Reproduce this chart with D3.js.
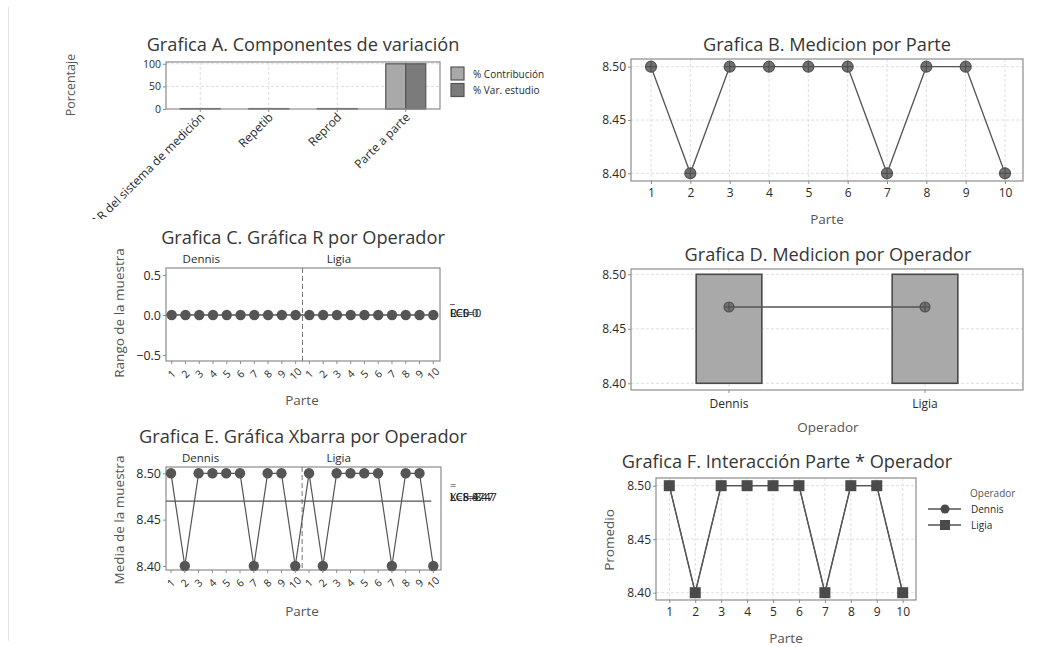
<!DOCTYPE html>
<html><head><meta charset="utf-8">
<script src="https://cdn.jsdelivr.net/npm/d3@7"></script>
<style>body{margin:0;background:#fff}svg{display:block}text{font-family:"Open Sans",sans-serif}</style>
</head><body><svg id="c" width="1052" height="647"></svg>
<script>
// ---------- data ----------
const components = ["R&R del sistema de medición", "Repetib", "Reprod", "Parte a parte"];
const seriesA = ["% Contribución", "% Var. estudio"];
const pctContribution = [1, 1, 1, 100];
const pctStudyVar = [1, 1, 1, 100];
const pctTicks = [0, 50, 100];
const parts = [1, 2, 3, 4, 5, 6, 7, 8, 9, 10];
const partMeans = [8.50, 8.40, 8.50, 8.50, 8.50, 8.50, 8.40, 8.50, 8.50, 8.40];
const operators = ["Dennis", "Ligia"];
const dennisRanges = [0, 0, 0, 0, 0, 0, 0, 0, 0, 0];
const ligiaRanges = [0, 0, 0, 0, 0, 0, 0, 0, 0, 0];
const dennisMeans = [8.50, 8.40, 8.50, 8.50, 8.50, 8.50, 8.40, 8.50, 8.50, 8.40];
const ligiaMeans = [8.50, 8.40, 8.50, 8.50, 8.50, 8.50, 8.40, 8.50, 8.50, 8.40];
const operatorQ1 = [8.40, 8.40];
const operatorQ3 = [8.50, 8.50];
const operatorMean = [8.47, 8.47];
const rTicks = [-0.5, 0, 0.5];
const meanTicks = [8.40, 8.45, 8.50];
const rCenter = 0;
const rLimitLabels = ["LCS=0", "R=0", "LCI=0"];
const xbarCenter = 8.47;
const xbarLimitLabels = ["LCS=8.47", "X=8.47", "LCI=8.47"];

// ---------- style ----------
const TITLE = "#363636", TXT = "#2a2a2a", LAB = "#555", FRAME = "#8c8c8c", GRID = "#dedede", MARK = "#555";
const svg = d3.select("#c");
svg.append("rect").attr("width", 1052).attr("height", 647).attr("fill", "#fff");
svg.append("line").attr("x1", 8.5).attr("x2", 8.5).attr("y1", 7).attr("y2", 641).attr("stroke", "#e2e2e2");

function title(g, x, y, t) {
  g.append("text").attr("x", x).attr("y", y).attr("text-anchor", "middle").attr("font-size", 18.2)
    .attr("fill", TITLE).text(t);
}
function frame(g, x0, y0, x1, y1) {
  g.append("rect").attr("x", x0).attr("y", y0).attr("width", x1 - x0).attr("height", y1 - y0)
    .attr("fill", "none").attr("stroke", FRAME).attr("stroke-width", 1.2);
}
function ylab(g, x, y, t, fs) {
  g.append("text").attr("transform", `translate(${x},${y}) rotate(-90)`).attr("text-anchor", "middle")
    .attr("font-size", fs || 13.5).attr("fill", LAB).text(t);
}
function xlab(g, x, y, t) {
  g.append("text").attr("x", x).attr("y", y).attr("text-anchor", "middle").attr("font-size", 13.5)
    .attr("fill", LAB).text(t);
}
function yAxis(g, scale, x, ticks, fmt, fs) {
  const a = g.append("g").attr("transform", `translate(${x},0)`)
    .call(d3.axisLeft(scale).tickValues(ticks).tickFormat(fmt).tickSize(3).tickPadding(2));
  a.select(".domain").remove();
  a.selectAll("line").attr("stroke", FRAME);
  a.selectAll("text").attr("font-size", fs || 12).attr("fill", TXT).attr("font-family", '"Open Sans",sans-serif');
}
function xAxis(g, scale, y, ticks, fs) {
  const a = g.append("g").attr("transform", `translate(0,${y})`)
    .call(d3.axisBottom(scale).tickValues(ticks).tickSize(3).tickPadding(4));
  a.select(".domain").remove();
  a.selectAll("line").attr("stroke", FRAME);
  a.selectAll("text").attr("font-size", fs || 12).attr("fill", TXT).attr("font-family", '"Open Sans",sans-serif');
  return a;
}
function hgrid(g, scale, ticks, x0, x1) {
  g.append("g").selectAll("line").data(ticks).join("line")
    .attr("x1", x0).attr("x2", x1).attr("y1", d => scale(d)).attr("y2", d => scale(d))
    .attr("stroke", GRID).attr("stroke-dasharray", "3,2");
}
function vgrid(g, xs, y0, y1) {
  g.append("g").selectAll("line").data(xs).join("line")
    .attr("x1", d => d).attr("x2", d => d).attr("y1", y0).attr("y2", y1)
    .attr("stroke", GRID).attr("stroke-dasharray", "3,2");
}
function circlePlus(g, pts, r) {
  const s = g.append("g").selectAll("g").data(pts).join("g").attr("transform", d => `translate(${d[0]},${d[1]})`);
  s.append("circle").attr("r", r).attr("fill", "#727272").attr("stroke", "#555").attr("stroke-width", 1.2);
  s.append("line").attr("x1", -r).attr("x2", r).attr("stroke", "#4a4a4a");
  s.append("line").attr("y1", -r).attr("y2", r).attr("stroke", "#4a4a4a");
}
const fmt2 = d3.format(".2f"), fmt1 = d3.format(".1f");

// ---------- Panel A ----------
{
  svg.append("defs").append("clipPath").attr("id", "clipA").append("rect")
    .attr("x", 0).attr("y", 0).attr("width", 560).attr("height", 219);
  const g = svg.append("g").attr("clip-path", "url(#clipA)");
  const x0 = 166, x1 = 440, y0 = 62, y1 = 109;
  const x = d3.scaleBand().domain(components).range([x0, x1]);
  const y = d3.scaleLinear().domain([0, 104]).range([y1, y0]);
  const inner = d3.scaleBand().domain(seriesA).range([0, 40]);
  const cx = c => x(c) + x.bandwidth() / 2;
  vgrid(g, components.map(cx), y0, y1);
  hgrid(g, y, [50, 100], x0, x1);
  const vals = [pctContribution, pctStudyVar];
  const fills = ["#a9a9a9", "#7b7b7b"];
  seriesA.forEach((s, si) => {
    g.append("g").selectAll("rect").data(components).join("rect")
      .attr("x", c => cx(c) - 20 + inner(s)).attr("width", inner.bandwidth())
      .attr("y", (c, i) => y(vals[si][i])).attr("height", (c, i) => y(0) - y(vals[si][i]))
      .attr("fill", fills[si]).attr("stroke", "#555").attr("stroke-width", 1.2);
  });
  frame(g, x0, y0, x1, y1);
  yAxis(g, y, x0, pctTicks, d3.format("d"), 10.5);
  g.append("g").selectAll("line").data(components).join("line")
    .attr("x1", cx).attr("x2", cx).attr("y1", y1).attr("y2", y1 + 3).attr("stroke", FRAME);
  g.append("g").selectAll("text").data(components).join("text")
    .attr("transform", c => `translate(${cx(c) + 5},${y1 + 9}) rotate(-45)`)
    .attr("text-anchor", "end").attr("font-size", 12).attr("fill", TXT).text(c => c);
  title(g, 303, 51, "Grafica A. Componentes de variación");
  ylab(g, 75, 85, "Porcentaje", 12.5);
  const lg = g.append("g").selectAll("g").data(seriesA).join("g")
    .attr("transform", (d, i) => `translate(451,${67 + i * 16.5})`);
  lg.append("rect").attr("width", 13).attr("height", 13).attr("fill", (d, i) => fills[i])
    .attr("stroke", "#555").attr("stroke-width", 1.2);
  lg.append("text").attr("x", 22).attr("y", 7).attr("dy", "0.35em").attr("font-size", 10)
    .attr("fill", TXT).text(d => d);
}

// ---------- Panel B ----------
{
  const g = svg.append("g");
  const x0 = 631, x1 = 1023, y0 = 59, y1 = 181;
  const x = d3.scaleLinear().domain([1, 10]).range([651, 1005]);
  const y = d3.scaleLinear().domain([8.40, 8.50]).range([173.3, 66.7]);
  vgrid(g, parts.map(x), y0, y1);
  hgrid(g, y, meanTicks, x0, x1);
  frame(g, x0, y0, x1, y1);
  g.append("path").datum(parts.map((p, i) => [x(p), y(partMeans[i])]))
    .attr("d", d3.line()).attr("fill", "none").attr("stroke", MARK).attr("stroke-width", 1.3);
  circlePlus(g, parts.map((p, i) => [x(p), y(partMeans[i])]), 5.5);
  yAxis(g, y, x0, meanTicks, fmt2);
  xAxis(g, x, y1, parts);
  title(g, 827, 51, "Grafica B. Medicion por Parte");
  xlab(g, 827, 224, "Parte");
}

// ---------- Panel C ----------
{
  const g = svg.append("g");
  const x0 = 166, x1 = 440, y0 = 268, y1 = 361;
  const n = dennisRanges.length + ligiaRanges.length;
  const idx = d3.range(n);
  const x = d3.scalePoint().domain(idx).range([171.7, 433.3]);
  const y = d3.scaleLinear().domain([-0.5, 0.5]).range([355, 275]);
  const ranges = dennisRanges.concat(ligiaRanges);
  frame(g, x0, y0, x1, y1);
  const split = (x(dennisRanges.length - 1) + x(dennisRanges.length)) / 2;
  g.append("line").attr("x1", split).attr("x2", split).attr("y1", y0).attr("y2", y1)
    .attr("stroke", "#777").attr("stroke-dasharray", "5,3");
  g.append("line").attr("x1", x0).attr("x2", x(n - 1)).attr("y1", y(rCenter)).attr("y2", y(rCenter))
    .attr("stroke", MARK).attr("stroke-width", 1.2);
  g.append("path").datum(idx.map(i => [x(i), y(ranges[i])]))
    .attr("d", d3.line()).attr("fill", "none").attr("stroke", MARK).attr("stroke-width", 1.2);
  g.append("g").selectAll("circle").data(idx).join("circle")
    .attr("cx", i => x(i)).attr("cy", i => y(ranges[i])).attr("r", 5.2).attr("fill", "#555");
  yAxis(g, y, x0, rTicks, fmt1, 12.5);
  g.append("g").selectAll("line").data(idx).join("line")
    .attr("x1", i => x(i)).attr("x2", i => x(i)).attr("y1", y1).attr("y2", y1 + 3).attr("stroke", FRAME);
  const labs = parts.concat(parts);
  g.append("g").selectAll("text").data(idx).join("text")
    .attr("transform", i => `translate(${x(i)},${y1 + 13}) rotate(-45)`).attr("text-anchor", "middle")
    .attr("dy", "0.35em").attr("font-size", 10.5).attr("fill", TXT).text(i => labs[i]);
  g.selectAll(".op").data(operators).join("text").attr("class", "op")
    .attr("x", (d, i) => x(i * dennisRanges.length + 2) + 2).attr("y", 263).attr("text-anchor", "middle")
    .attr("font-size", 11.5).attr("fill", TXT).text(d => d);
  rLimitLabels.forEach(t => g.append("text").attr("x", 450).attr("y", 317).attr("font-size", 11)
    .attr("fill", "#222").text(t));
  g.append("text").attr("x", 450).attr("y", 303).attr("font-size", 11).attr("fill", "#222").text("_");
  title(g, 303, 244, "Grafica C. Gráfica R por Operador");
  ylab(g, 124, 313, "Rango de la muestra");
  xlab(g, 302, 405, "Parte");
}

// ---------- Panel D ----------
{
  const g = svg.append("g");
  const x0 = 631, x1 = 1023, y0 = 269, y1 = 390;
  const x = d3.scaleBand().domain(operators).range([x0, x1]);
  const y = d3.scaleLinear().domain([8.40, 8.50]).range([383.3, 274.3]);
  const cx = o => x(o) + x.bandwidth() / 2;
  vgrid(g, operators.map(cx), y0, y1);
  hgrid(g, y, meanTicks, x0, x1);
  const bw = x.bandwidth() * 0.335;
  g.append("g").selectAll("rect").data(operators).join("rect")
    .attr("x", o => cx(o) - bw / 2).attr("width", bw)
    .attr("y", (o, i) => y(operatorQ3[i])).attr("height", (o, i) => y(operatorQ1[i]) - y(operatorQ3[i]))
    .attr("fill", "#a9a9a9").attr("stroke", "#4a4a4a").attr("stroke-width", 1.6);
  frame(g, x0, y0, x1, y1);
  const pts = operators.map((o, i) => [cx(o), y(operatorMean[i])]);
  g.append("path").datum(pts).attr("d", d3.line()).attr("fill", "none").attr("stroke", MARK).attr("stroke-width", 1.5);
  circlePlus(g, pts, 5);
  yAxis(g, y, x0, meanTicks, fmt2);
  const a = g.append("g").attr("transform", `translate(0,${y1})`)
    .call(d3.axisBottom(x).tickSize(3).tickPadding(6));
  a.select(".domain").remove();
  a.selectAll("line").attr("stroke", FRAME);
  a.selectAll("text").attr("font-size", 12).attr("fill", TXT).attr("font-family", '"Open Sans",sans-serif');
  title(g, 828, 261, "Grafica D. Medicion por Operador");
  xlab(g, 828, 432, "Operador");
}

// ---------- Panel E ----------
{
  const g = svg.append("g");
  const x0 = 166, x1 = 441, y0 = 467, y1 = 570;
  const n = dennisMeans.length + ligiaMeans.length;
  const idx = d3.range(n);
  const x = d3.scalePoint().domain(idx).range([171, 433.3]);
  const y = d3.scaleLinear().domain([8.40, 8.50]).range([566, 473.3]);
  const means = dennisMeans.concat(ligiaMeans);
  frame(g, x0, y0, x1, y1);
  const split = (x(dennisMeans.length - 1) + x(dennisMeans.length)) / 2;
  g.append("line").attr("x1", split).attr("x2", split).attr("y1", y0).attr("y2", y1)
    .attr("stroke", "#777").attr("stroke-dasharray", "5,3");
  g.append("line").attr("x1", x0).attr("x2", x(n - 1) - 2).attr("y1", y(xbarCenter)).attr("y2", y(xbarCenter))
    .attr("stroke", MARK).attr("stroke-width", 1.3);
  g.append("path").datum(idx.map(i => [x(i), y(means[i])]))
    .attr("d", d3.line()).attr("fill", "none").attr("stroke", MARK).attr("stroke-width", 1.2);
  g.append("g").selectAll("circle").data(idx).join("circle")
    .attr("cx", i => x(i)).attr("cy", i => y(means[i])).attr("r", 5.2).attr("fill", "#555");
  yAxis(g, y, x0, meanTicks, fmt2, 12.5);
  g.append("g").selectAll("line").data(idx).join("line")
    .attr("x1", i => x(i)).attr("x2", i => x(i)).attr("y1", y1).attr("y2", y1 + 3).attr("stroke", FRAME);
  const labs = parts.concat(parts);
  g.append("g").selectAll("text").data(idx).join("text")
    .attr("transform", i => `translate(${x(i)},${y1 + 13}) rotate(-45)`).attr("text-anchor", "middle")
    .attr("dy", "0.35em").attr("font-size", 10.5).attr("fill", TXT).text(i => labs[i]);
  g.selectAll(".op").data(operators).join("text").attr("class", "op")
    .attr("x", (d, i) => x(i * dennisMeans.length + 2) + 2).attr("y", 462).attr("text-anchor", "middle")
    .attr("font-size", 11.5).attr("fill", TXT).text(d => d);
  xbarLimitLabels.forEach(t => g.append("text").attr("x", 450).attr("y", 501).attr("font-size", 11)
    .attr("fill", "#222").text(t));
  g.append("text").attr("x", 450).attr("y", 489).attr("font-size", 11).attr("fill", "#222").text("=");
  title(g, 303, 443, "Grafica E. Gráfica Xbarra por Operador");
  ylab(g, 124, 520, "Media de la muestra");
  xlab(g, 302, 616, "Parte");
}

// ---------- Panel F ----------
{
  const g = svg.append("g");
  const x0 = 656, x1 = 916, y0 = 478, y1 = 600;
  const x = d3.scaleLinear().domain([1, 10]).range([669.3, 902.7]);
  const y = d3.scaleLinear().domain([8.40, 8.50]).range([592.7, 485.7]);
  vgrid(g, parts.map(x), y0, y1);
  hgrid(g, y, meanTicks, x0, x1);
  frame(g, x0, y0, x1, y1);
  const series = [dennisMeans, ligiaMeans];
  series.forEach((s, si) => {
    g.append("path").datum(parts.map((p, i) => [x(p), y(s[i])]))
      .attr("d", d3.line()).attr("fill", "none").attr("stroke", MARK).attr("stroke-width", 1.3);
    if (si === 0) {
      g.append("g").selectAll("circle").data(parts).join("circle")
        .attr("cx", x).attr("cy", (p, i) => y(s[i])).attr("r", 5).attr("fill", "#4a4a4a");
    } else {
      g.append("g").selectAll("rect").data(parts).join("rect")
        .attr("x", p => x(p) - 5.5).attr("y", (p, i) => y(s[i]) - 5.5).attr("width", 11).attr("height", 11)
        .attr("fill", "#4a4a4a");
    }
  });
  yAxis(g, y, x0, meanTicks, fmt2);
  xAxis(g, x, y1, parts);
  title(g, 787, 468, "Grafica F. Interacción Parte * Operador");
  ylab(g, 614, 540, "Promedio");
  xlab(g, 786, 643, "Parte");
  g.append("text").attr("x", 970).attr("y", 497).attr("font-size", 10).attr("fill", LAB).text("Operador");
  const lg = g.append("g").selectAll("g").data(operators).join("g")
    .attr("transform", (d, i) => `translate(0,${509 + i * 16})`);
  lg.append("line").attr("x1", 928).attr("x2", 961).attr("stroke", MARK).attr("stroke-width", 1.3);
  lg.filter((d, i) => i === 0).append("circle").attr("cx", 945).attr("r", 4.5).attr("fill", "#4a4a4a");
  lg.filter((d, i) => i === 1).append("rect").attr("x", 940).attr("y", -5).attr("width", 10).attr("height", 10).attr("fill", "#4a4a4a");
  lg.append("text").attr("x", 971).attr("dy", "0.35em").attr("font-size", 10).attr("fill", TXT).text(d => d);
}
</script></body></html>
